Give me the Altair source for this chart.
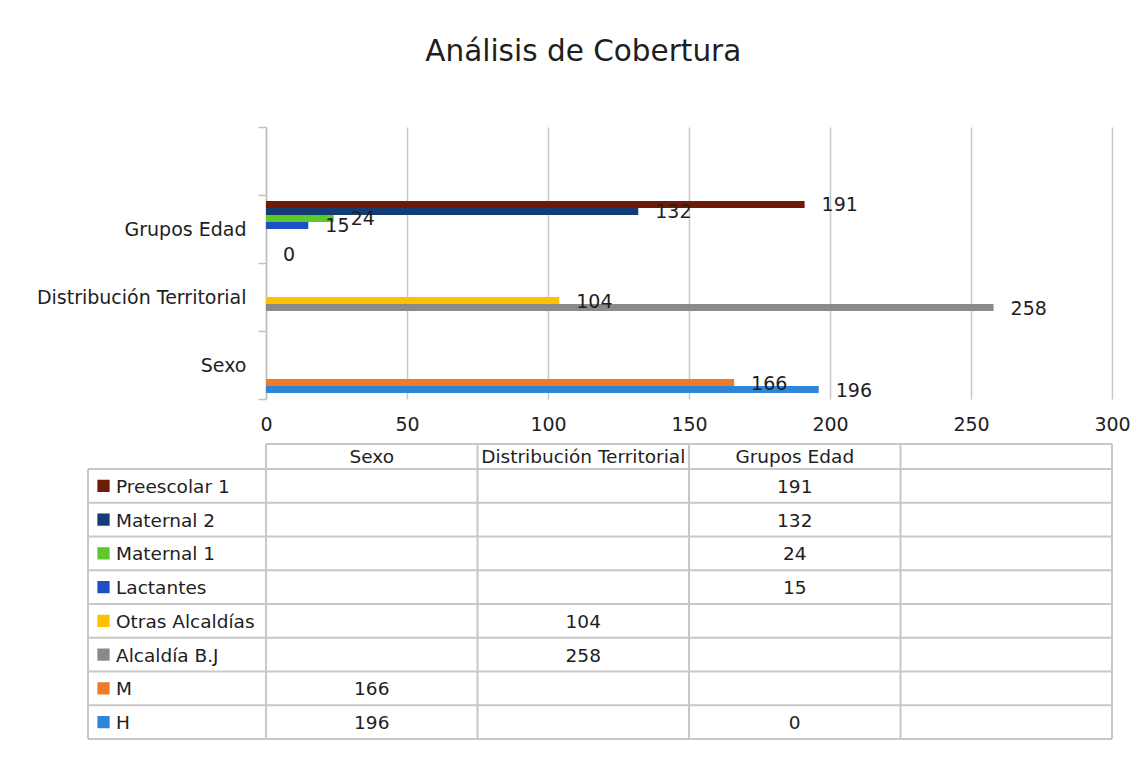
import altair as alt
import pandas as pd

# ---------------- data ----------------
categories = ["Sexo", "Distribución Territorial", "Grupos Edad", " "]
series = ["H", "M", "Alcaldía B.J", "Otras Alcaldías",
          "Lactantes", "Maternal 1", "Maternal 2", "Preescolar 1"]
series_colors = ["#2f86d9", "#ee7a2a", "#8a8a8a", "#ffc000",
                 "#1f4fc4", "#5cc82a", "#143d73", "#6e1a04"]

value_category = ["Sexo", "Sexo",
                  "Distribución Territorial", "Distribución Territorial",
                  "Grupos Edad", "Grupos Edad", "Grupos Edad", "Grupos Edad",
                  "Grupos Edad"]
value_series = ["H", "M",
                "Alcaldía B.J", "Otras Alcaldías",
                "Lactantes", "Maternal 1", "Maternal 2", "Preescolar 1",
                "H"]
values = [196, 166, 258, 104, 15, 24, 132, 191, 0]

x_ticks = [0, 50, 100, 150, 200, 250, 300]

FONT = "DejaVu Sans"
TXT = "#1e1e1e"
GRID = "#c8c8c8"

df = pd.DataFrame({"category": value_category, "series": value_series, "value": values})
df["col"] = [categories.index(c) + 0.5 for c in df["category"]]
df["row"] = [series.index(s) + 0.5 for s in df["series"]]

# ---------------- bar chart ----------------
y_domain = list(reversed(categories))          # top to bottom
offset_domain = list(reversed(series))         # top to bottom within a band

base = alt.Chart(df).encode(
    y=alt.Y("category:N",
            scale=alt.Scale(domain=y_domain, paddingInner=0, paddingOuter=0),
            axis=alt.Axis(title=None, labelFontSize=19, labelFont=FONT, labelColor=TXT,
                          labelLimit=400,
                          domainColor="#bfbfbf", domainWidth=1.5,
                          tickColor="#bfbfbf", tickWidth=1.5, tickSize=8,
                          tickBand="extent", labelPadding=12, grid=False)),
    yOffset=alt.YOffset("series:N",
                        scale=alt.Scale(domain=offset_domain, paddingInner=0, paddingOuter=0.857)),
)

bars = base.mark_bar().encode(
    x=alt.X("value:Q",
            scale=alt.Scale(domain=[0, 300], nice=False),
            axis=alt.Axis(values=x_ticks, title=None, grid=True, gridColor=GRID, gridWidth=1.5,
                          domain=False, ticks=False, labelFontSize=19, labelFont=FONT,
                          labelColor=TXT, labelPadding=16, labelFlush=False)),
    color=alt.Color("series:N", scale=alt.Scale(domain=series, range=series_colors), legend=None),
)

bar_labels = base.mark_text(align="left", baseline="middle", dx=17, dy=1,
                            fontSize=19, font=FONT, color=TXT).encode(
    x=alt.X("value:Q"),
    text=alt.Text("value:Q"),
)

bar_chart = alt.layer(bars, bar_labels).properties(width=846, height=272)

# ---------------- data table ----------------
n_rows = len(series)
n_cols = len(categories)
header_h = 0.74            # header row height in row units
legend_left = -0.8416      # legend column width in column units
top = n_rows + header_h

xs = alt.Scale(domain=[0, n_cols], nice=False, zero=False)
ys = alt.Scale(domain=[0, top], nice=False, zero=False)

h_lines = pd.DataFrame({
    "x": [legend_left] * (n_rows + 1) + [0],
    "x2": [n_cols] * (n_rows + 1) + [n_cols],
    "y": list(range(n_rows + 1)) + [top],
})
v_lines = pd.DataFrame({
    "x": [legend_left] + list(range(n_cols + 1)),
    "y": [0] * (n_cols + 2),
    "y2": [n_rows] + [top] * (n_cols + 1),
})

hl = alt.Chart(h_lines).mark_rule(color=GRID, strokeWidth=2).encode(
    x=alt.X("x:Q", scale=xs, axis=None), x2="x2:Q",
    y=alt.Y("y:Q", scale=ys, axis=None))
vl = alt.Chart(v_lines).mark_rule(color=GRID, strokeWidth=2).encode(
    x=alt.X("x:Q", scale=xs, axis=None),
    y=alt.Y("y:Q", scale=ys, axis=None), y2="y2:Q")

header = pd.DataFrame({"label": categories,
                       "x": [i + 0.5 for i in range(n_cols)],
                       "y": [n_rows + header_h / 2] * n_cols})
head_text = alt.Chart(header).mark_text(fontSize=18.5, font=FONT, color=TXT,
                                        baseline="middle", dy=1).encode(
    x=alt.X("x:Q", scale=xs, axis=None), y=alt.Y("y:Q", scale=ys, axis=None),
    text="label:N")

legend_df = pd.DataFrame({"series": series,
                          "x": [legend_left] * n_rows,
                          "y": [i + 0.5 for i in range(n_rows)]})
keys = alt.Chart(legend_df).mark_square(size=150, opacity=1, xOffset=15.5).encode(
    x=alt.X("x:Q", scale=xs, axis=None), y=alt.Y("y:Q", scale=ys, axis=None),
    color=alt.Color("series:N", scale=alt.Scale(domain=series, range=series_colors), legend=None))
key_text = alt.Chart(legend_df).mark_text(align="left", baseline="middle", dx=28, dy=1,
                                          fontSize=18.5, font=FONT, color=TXT).encode(
    x=alt.X("x:Q", scale=xs, axis=None), y=alt.Y("y:Q", scale=ys, axis=None),
    text="series:N")

cell_text = alt.Chart(df).mark_text(fontSize=18.5, font=FONT, color=TXT,
                                    baseline="middle", dy=1).encode(
    x=alt.X("col:Q", scale=xs, axis=None), y=alt.Y("row:Q", scale=ys, axis=None),
    text=alt.Text("value:Q"))

table = alt.layer(hl, vl, head_text, keys, key_text, cell_text).properties(width=846, height=295)

chart = alt.vconcat(bar_chart, table, spacing=9).properties(
    title=alt.TitleParams("Análisis de Cobertura", fontSize=29.5, font=FONT, fontWeight="normal",
                          color=TXT, anchor="middle", offset=51),
    padding={"left": 28, "top": 28, "right": 5, "bottom": 5},
    background="white",
).configure_view(stroke=None)

chart.save("out.html", embed_options={"renderer": "svg", "actions": False})
